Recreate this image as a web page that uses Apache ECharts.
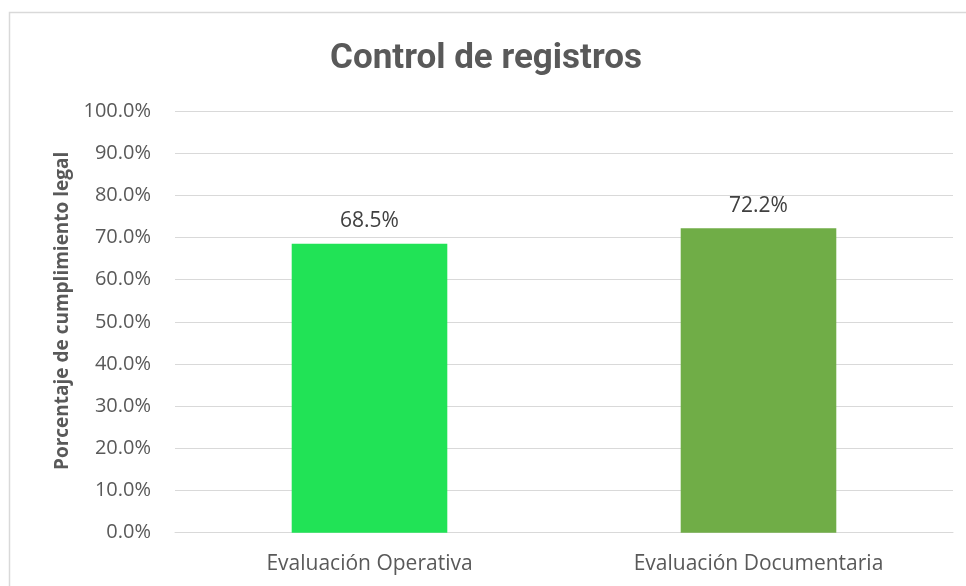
<!DOCTYPE html>
<html>
<head>
<meta charset="utf-8">
<script src="https://cdn.jsdelivr.net/npm/echarts@6/dist/echarts.min.js"></script>
<style>html,body{margin:0;padding:0;background:#fff;}#c{width:966px;height:586px;}</style>
</head>
<body>
<div id="c"></div>
<script>
const titleText = "Control de registros";
const yAxisTitle = "Porcentaje de cumplimiento legal";
const categories = ["Evaluación Operativa", "Evaluación Documentaria"];
const values = [68.5, 72.2];
const barColors = ["#21E356", "#70AD47"];

const chart = echarts.init(document.getElementById('c'), null, {renderer: 'canvas'});
chart.setOption({
  animation: false,
  backgroundColor: '#fff',
  graphic: [{
    type: 'rect', silent: true,
    shape: {x: 9.5, y: 12.5, width: 1000, height: 1000},
    style: {fill: 'none', stroke: '#D9D9D9', lineWidth: 1.5}
  }],
  title: {
    text: titleText,
    left: 481, top: 37, textAlign: 'center',
    textStyle: {fontFamily: 'Roboto', fontWeight: 'bold', fontSize: 35, color: '#595959'}
  },
  grid: {left: 175, right: 13, top: 111, bottom: 53.3, containLabel: false},
  xAxis: {
    type: 'category', data: categories,
    axisLine: {show: true, lineStyle: {color: '#D9D9D9', width: 1}},
    axisTick: {show: false},
    axisLabel: {color: '#595959', fontFamily: 'Open Sans', fontSize: 21, margin: 21}
  },
  yAxis: {
    type: 'value', min: 0, max: 100, interval: 10,
    name: yAxisTitle, nameLocation: 'middle', nameGap: 103, nameRotate: 90,
    nameTextStyle: {fontFamily: 'Open Sans', fontWeight: 'bold', fontSize: 19, color: '#595959',
      padding: [0, 0, 0, 22]},
    axisLine: {show: false}, axisTick: {show: false},
    splitLine: {lineStyle: {color: '#D9D9D9', width: 1}},
    axisLabel: {color: '#595959', fontFamily: 'Open Sans', fontSize: 20, margin: 24,
      formatter: v => v.toFixed(1) + '%'}
  },
  series: [{
    type: 'bar', barWidth: '40%',
    data: values.map((v, i) => ({value: v, itemStyle: {color: barColors[i]}})),
    label: {show: true, position: 'top', distance: 12, color: '#404040', fontFamily: 'Open Sans', fontSize: 21,
      formatter: p => p.value.toFixed(1) + '%'}
  }]
});
</script>
</body>
</html>
